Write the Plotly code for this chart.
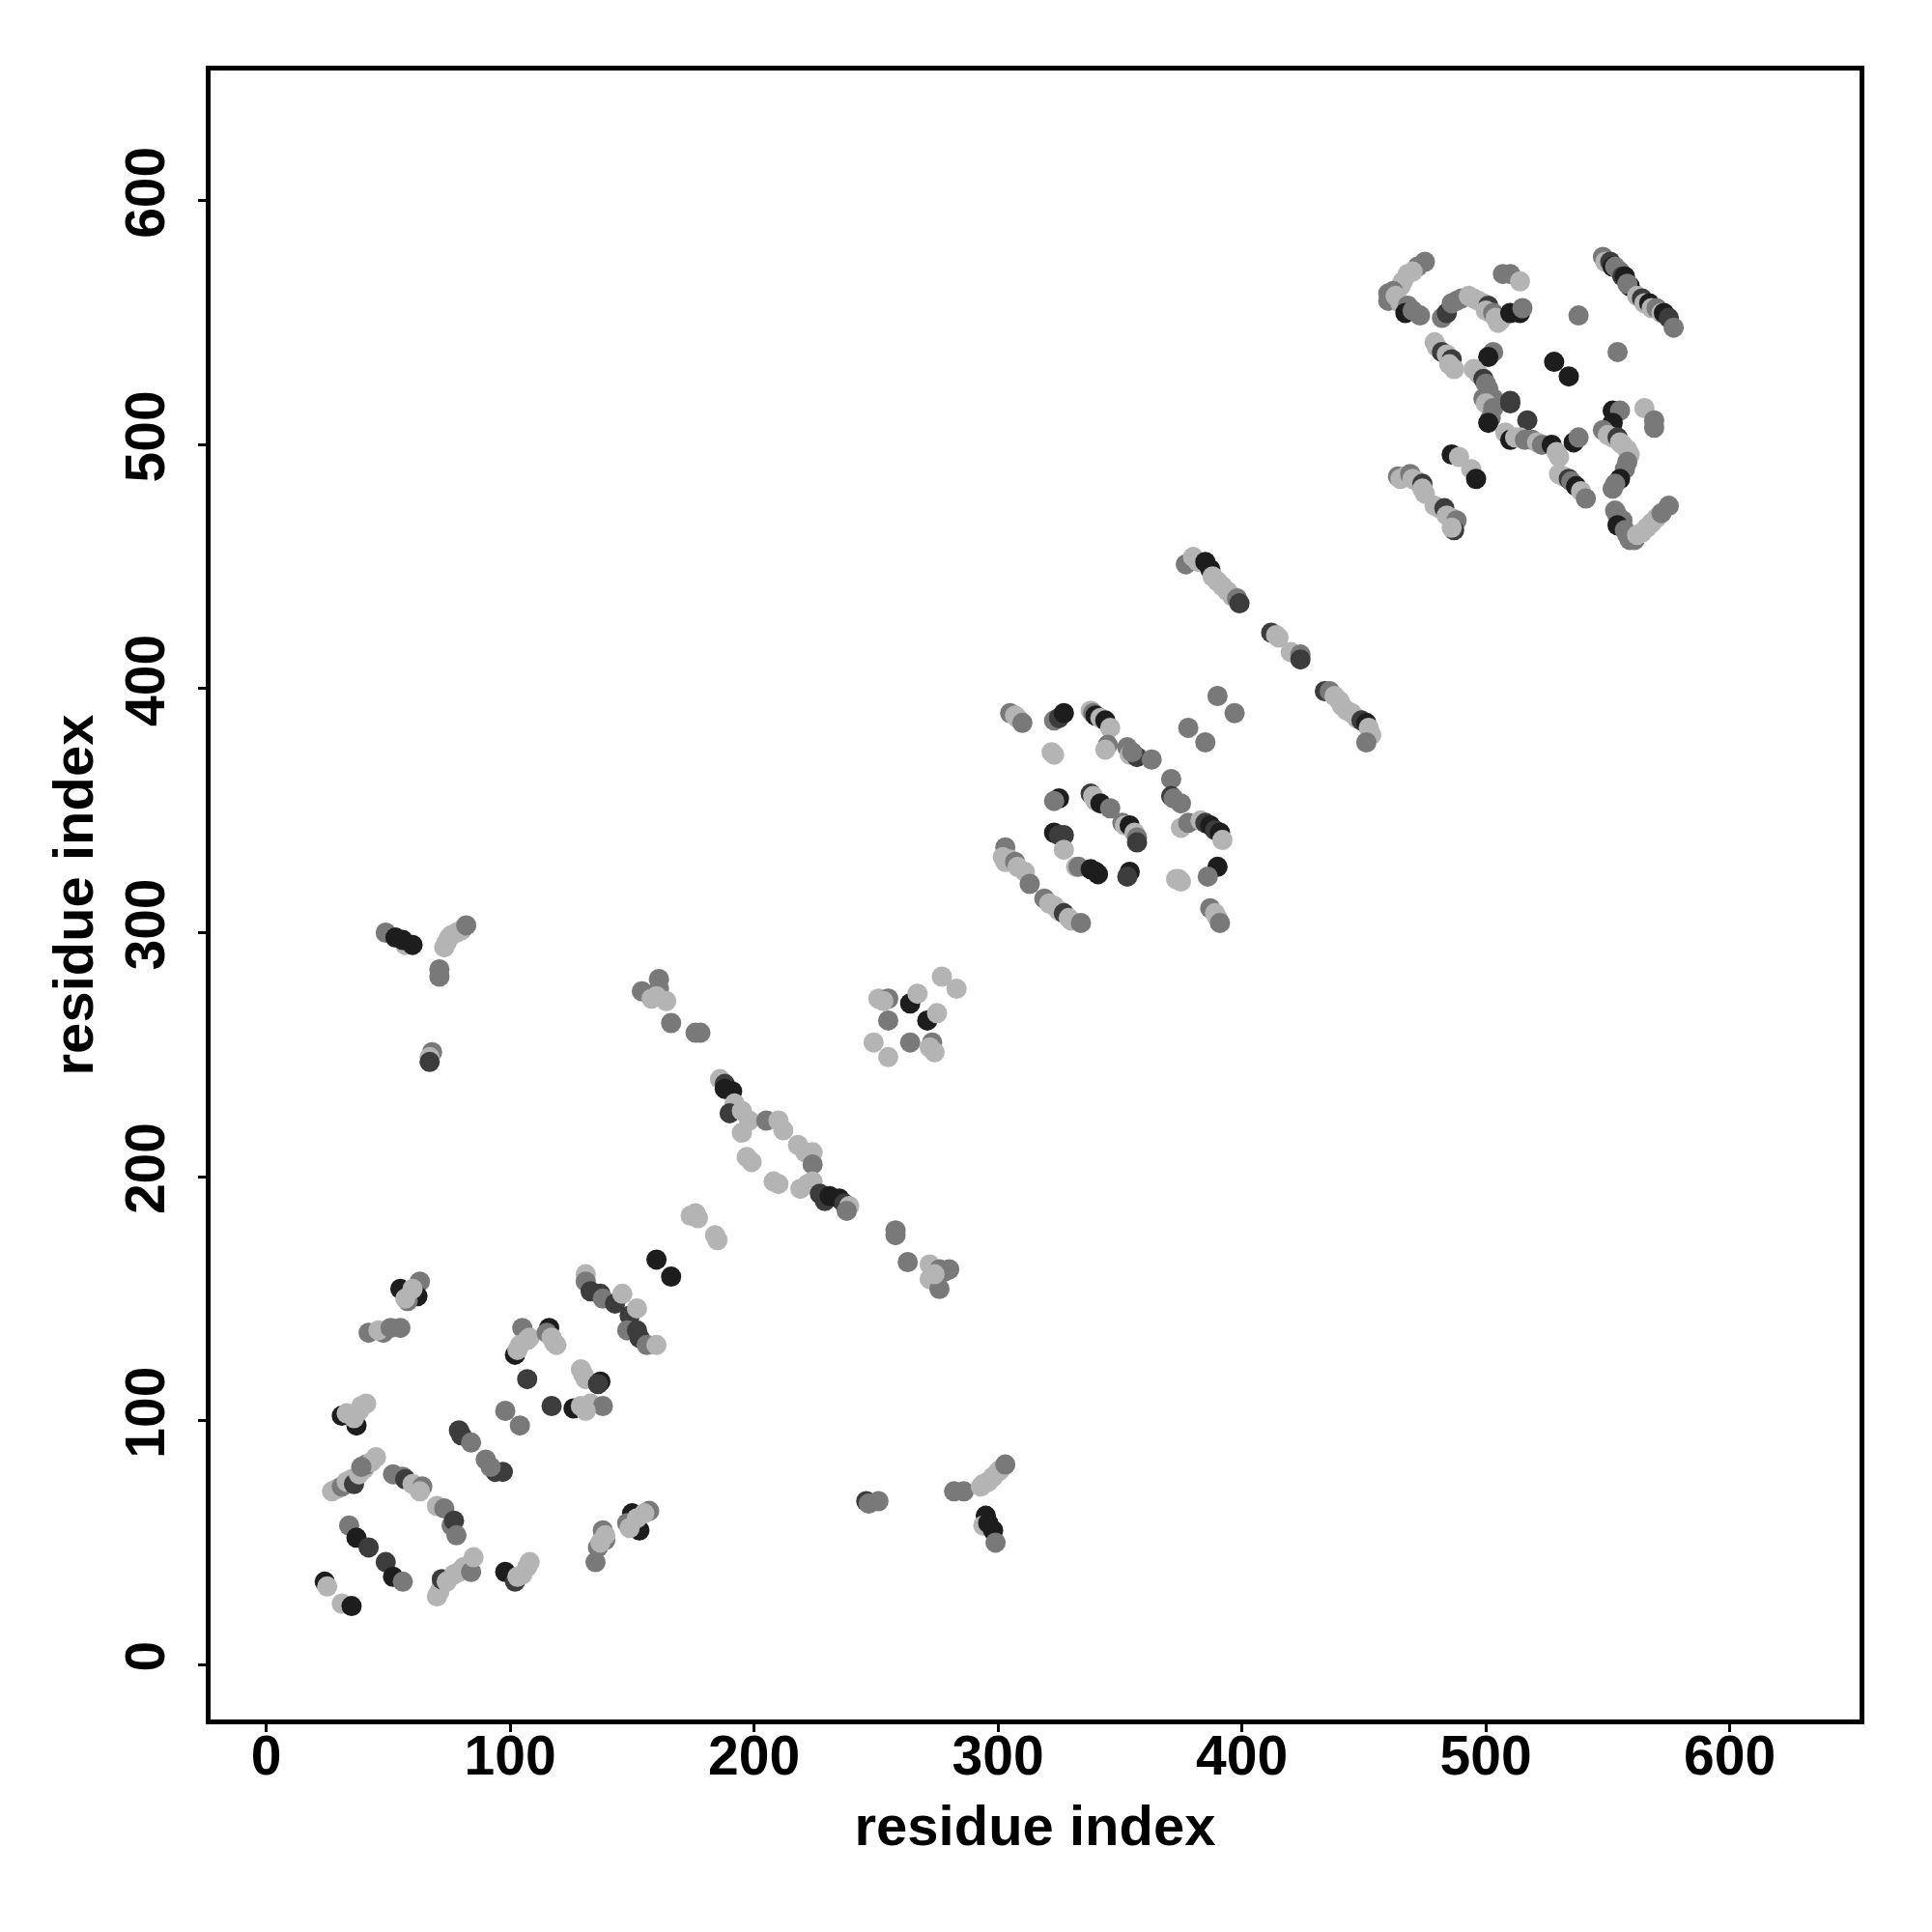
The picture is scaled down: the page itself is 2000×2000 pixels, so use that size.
import plotly.graph_objects as go

# contact pairs (residue i, residue j) and a contact score (light grey = low, black = high)
L, M, D, K = 0.07, 0.41, 0.77, 0.95
pairs = [
    # region near residues 20-170
    (55,154,K),(63,157,M),(62,151,K),(58,149,M),(60,154,L),(57,150,L),
    (42,136,M),(48,136,M),(46,137,L),(51,138,M),(55,138,M),
    (105,138,M),(102,127,K),(104,131,L),(107,133,L),(108,134,L),(103,129,L),(116,138,K),(115,136,M),(119,131,L),(117,134,L),(118,132,L),
    (107,117,D),(117,106,D),(98,104,M),(104,98,M),
    (129,121,L),(130,119,L),(131,117,L),(137,116,K),(136,115,D),
    (126,105,K),(129,106,L),(133,107,L),(138,106,M),(131,104,L),
    (131,160,L),(131,157,M),(133,153,D),(137,152,D),(138,150,M),(143,148,D),(146,152,L),(149,143,D),(152,146,L),(148,137,M),(152,137,D),(153,134,D),(156,131,M),(160,131,L),
    (160,166,K),(166,159,K),
    (31,102,K),(37,98,K),(41,107,L),(38,104,L),(36,101,L),(39,106,L),(33,103,L),
    (79,96,D),(80,94,D),(84,91,M),
    (90,84,M),(94,79,D),(97,79,D),(92,81,M),
    (27,71,L),(29,72,L),(31,73,M),(33,75,L),(35,76,L),(36,74,D),(38,78,L),(40,80,L),(41,82,M),(43,83,L),(45,85,L),(39,81,M),
    (52,78,M),(56,77,M),(57,76,D),(60,74,L),(64,73,M),(63,71,L),
    (70,65,L),(73,64,M),(76,57,M),(77,59,D),(78,53,M),
    (34,57,M),(37,52,K),(42,48,D),(49,42,D),(52,36,K),(56,34,M),
    (24,34,K),(25,32,L),(31,25,L),(35,24,K),
    (70,28,L),(71,30,L),(72,33,L),(72,35,D),(74,34,L),(77,37,L),(79,38,L),(81,40,L),(84,38,M),(85,44,L),
    (98,38,K),(102,34,D),(103,36,L),(105,37,L),(107,40,L),(108,42,L),
    (138,55,M),(139,51,M),(136,48,M),(135,42,M),(139,53,L),(137,50,L),
    (150,62,K),(153,55,K),(157,63,M),(155,62,L),(148,58,M),(149,56,L),(152,60,L),
    # long range contacts
    (49,300,M),(53,298,K),(57,295,L),(56,297,K),(60,295,K),
    (74,296,L),(75,298,L),(76,299,L),(78,300,L),(80,301,L),(82,303,M),(73,294,L),
    (71,285,M),(71,282,M),
    (68,251,M),(67,249,L),(67,247,D),
    (154,276,M),(158,273,L),(161,281,M),(161,277,M),(164,272,L),(160,274,L),
    (166,263,M),(176,259,M),(178,259,M),
    (251,273,L),(255,273,M),(253,272,L),(264,271,K),(267,275,L),(271,264,K),(275,267,L),(277,282,L),(283,277,L),(255,264,M),(249,255,L),(255,249,L),(264,255,M),(273,255,M),(274,251,L),(272,253,L),
    (186,240,L),(188,238,D),(191,235,K),(188,236,K),(192,230,L),(190,226,D),(195,227,L),(198,223,L),(195,218,L),(205,223,M),(210,223,L),(212,219,L),(218,213,L),(221,210,L),(224,210,L),(224,205,M),
    (197,208,L),(199,206,L),(208,198,L),(210,197,L),(219,195,L),(222,197,L),(224,198,L),(227,193,D),(229,190,D),(231,192,K),(235,191,K),(237,189,D),(239,188,L),(238,186,M),
    (174,184,L),(177,183,L),(176,185,L),(184,176,L),(185,174,L),
    (258,176,M),(258,178,M),(263,165,M),(272,164,L),(276,162,M),(280,162,M),(278,161,M),(272,158,L),(276,154,M),(274,160,L),
    (246,67,D),(247,66,M),(251,67,M),
    (282,71,M),(286,71,M),
    (293,73,L),(294,74,L),(296,75,L),(298,77,L),(300,79,L),(301,80,L),(303,82,M),
    (295,61,K),(294,57,L),(296,58,K),(298,55,K),(299,50,M),
    # region near residues 300-400
    (305,390,M),(307,389,L),(308,388,L),(310,386,M),
    (323,387,M),(325,388,D),(327,390,K),
    (322,374,L),(323,373,L),
    (338,391,L),(339,390,M),(340,389,K),(342,388,L),(344,387,K),(346,384,L),(345,377,M),(344,375,L),
    (353,376,M),(354,373,L),(357,372,D),(355,374,M),(363,371,M),
    (371,363,M),(371,356,D),(372,355,M),(375,353,M),
    (390,397,M),(397,390,M),(378,384,M),(385,378,M),
    (325,355,K),(323,354,M),
    (338,357,D),(339,356,L),(340,354,L),(342,353,K),(346,351,M),
    (351,345,M),(352,344,L),(354,344,K),(356,341,L),(357,339,M),(357,337,D),
    (375,343,L),(378,345,M),(383,346,L),(385,345,D),(387,344,K),(389,342,D),(391,341,K),(392,338,L),
    (323,341,K),(325,340,D),(327,340,D),(327,334,L),
    (332,327,L),(333,327,M),(338,326,K),(340,325,K),(341,324,K),
    (354,325,K),(353,323,D),
    (373,322,L),(375,321,L),(374,322,L),
    (390,327,K),(386,323,M),
    (387,310,M),(389,308,L),(390,306,L),(391,304,M),
    (303,335,M),(302,331,L),(303,329,L),(305,330,L),(307,329,M),(308,327,L),(311,325,L),(313,320,M),
    (319,314,M),(321,312,L),(323,311,L),(325,309,L),(327,308,D),(329,306,L),(330,305,L),(334,304,M),
    (377,451,M),(380,454,L),(382,452,L),(385,452,K),(387,449,K),(388,446,L),(390,444,L),(392,442,L),(394,440,L),(396,438,L),(398,437,M),(399,435,D),
    (412,423,D),(414,422,L),(415,421,L),
    (420,415,L),(424,414,M),(424,412,D),
    (434,399,D),(436,399,M),(438,397,L),(440,395,L),(441,393,L),(443,391,L),(445,390,L),(447,388,L),(449,387,D),(451,386,K),(452,384,L),(453,381,L),(451,378,M),
    # region near residues 460-580
    (475,575,M),(472,573,M),(470,571,L),(468,570,L),(466,567,L),(465,565,L),(462,563,M),(460,562,M),(460,559,M),(463,561,L),(465,558,L),(468,557,M),(467,554,K),(470,555,M),(473,553,M),
    (482,552,M),(484,554,D),(486,558,M),(488,559,M),(490,560,M),(493,561,L),(495,560,L),(497,559,L),(499,558,L),(501,557,D),(500,555,L),(502,554,L),(503,554,M),(504,552,L),(505,550,L),(506,551,L),(510,554,K),(514,554,K),(515,556,M),
    (507,570,M),(510,570,M),(514,567,L),
    (538,553,M),
    (548,577,M),(549,575,L),(551,575,D),(552,573,K),(553,573,M),(555,571,M),(556,569,D),(557,569,K),(559,565,K),(558,566,M),(562,561,L),(564,560,D),(565,558,L),(567,558,K),(568,556,L),(570,556,M),(572,554,L),(573,554,K),(575,552,D),(577,548,M),
    (554,538,M),
    (528,534,K),(534,528,K),
    (479,542,L),(480,540,L),(482,538,D),(484,537,L),(486,535,D),(487,531,L),(485,533,L),
    (503,538,M),(501,536,K),
    (495,531,L),(497,529,L),(499,527,D),(500,525,M),(501,523,M),(503,519,M),(510,518,D),
    (499,519,M),(500,517,L),(503,515,M),(502,511,M),(501,509,K),(510,517,D),
    (517,510,D),
    (508,505,L),(510,502,K),(512,503,L),(514,503,L),(516,502,M),(519,502,M),(521,501,L),(523,500,M),(527,500,K),(529,497,L),(530,495,L),
    (536,501,K),(538,503,M),
    (530,488,L),(532,487,L),(534,486,D),(535,485,M),(537,483,K),(539,481,L),(541,478,M),
    (552,514,K),(555,514,M),(552,509,K),(548,506,M),(550,504,L),(552,503,L),(554,503,D),(555,501,L),(556,500,L),(558,498,L),(559,496,L),(558,493,M),(557,490,M),(555,486,K),(553,484,M),(552,482,M),
    (565,515,L),(569,510,M),(569,507,M),
    (486,496,K),(489,495,L),(494,490,L),(496,486,K),
    (464,487,M),(465,486,L),(467,487,L),(469,488,M),(470,486,L),(472,485,L),(474,484,D),(474,482,L),(475,480,L),
    (479,475,L),(481,474,L),(483,474,D),(484,471,L),(486,470,L),(488,469,M),(487,465,D),(486,466,L),
    (553,473,M),(554,471,M),(556,469,M),(554,467,K),(557,465,M),(558,463,M),(559,461,M),(561,461,M),(562,463,L),(564,464,L),(566,466,L),(568,468,L),(570,470,L),(572,472,M),(575,475,M),
]
res_i = [p[0] for p in pairs]
res_j = [p[1] for p in pairs]
score = [p[2] for p in pairs]

tick_vals = [0, 100, 200, 300, 400, 500, 600]
tick_text = ["0", "100", "200", "300", "400", "500", "600"]
axis_title = "residue index"

FONT = "Liberation Sans, Arial, Helvetica, sans-serif"

fig = go.Figure(go.Scatter(
    x=res_i, y=res_j, mode="markers",
    marker=dict(size=21, color=score, cmin=0, cmax=1,
                colorscale=[[0, "#c0c0c0"], [1, "#141414"]],
                line=dict(width=0), opacity=1),
    hoverinfo="x+y",
))

common = dict(
    showline=True, mirror=True, linewidth=5, linecolor="black",
    showgrid=False, zeroline=False,
    ticks="outside", ticklen=8, tickwidth=3, tickcolor="black",
    tickvals=tick_vals, ticktext=tick_text,
    tickfont=dict(family=FONT, size=57, color="black", weight="bold"),
)

fig.update_layout(
    width=2000, height=2000,
    margin=dict(l=210, r=83, t=65, b=228),
    plot_bgcolor="white", paper_bgcolor="white",
    showlegend=False,
    xaxis=dict(range=[-22.8, 653.2], ticklabelstandoff=-24,
               title=dict(text=axis_title, standoff=23,
               font=dict(family=FONT, size=58, color="black", weight="bold")), **common),
    yaxis=dict(range=[-22.5, 653.4], tickangle=-90, ticklabelstandoff=12,
               title=dict(text=axis_title, standoff=4,
               font=dict(family=FONT, size=58, color="black", weight="bold")), **common),
)

fig.write_html("out.html")
